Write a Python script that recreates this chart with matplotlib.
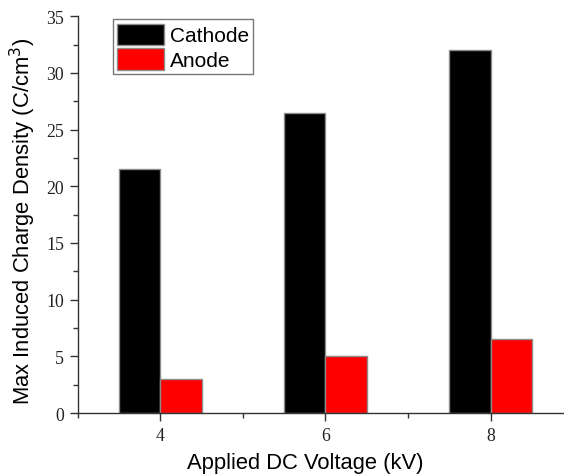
import numpy as np
import matplotlib.pyplot as plt
from matplotlib.ticker import MultipleLocator

# -----------------------------
# Data
# -----------------------------
voltage = [4, 6, 8]
cathode = [21.5, 26.5, 32.0]
anode = [3.0, 5.05, 6.5]

fig = plt.figure(figsize=(5.64, 4.77), dpi=100)
ax = fig.add_axes([0.138, 0.132, 0.862, 0.832])

x = np.array(voltage, dtype=float)
w = 0.5
ax.bar(x - w / 2, cathode, width=w, color="black", edgecolor="#8c8c8c",
       linewidth=1.0, label="Cathode")
ax.bar(x + w / 2, anode, width=w, color="red", edgecolor="#8c8c8c",
       linewidth=1.0, label="Anode")

ax.set_xlim(3, 8.89)
ax.set_ylim(0, 35)
ax.set_xticks(voltage)
ax.xaxis.set_minor_locator(MultipleLocator(1))
ax.yaxis.set_major_locator(MultipleLocator(5))
ax.yaxis.set_minor_locator(MultipleLocator(2.5))

ax.spines["top"].set_visible(False)
ax.spines["right"].set_visible(False)
for s in ["left", "bottom"]:
    ax.spines[s].set_linewidth(1.0)
    ax.spines[s].set_color("#333333")

ax.tick_params(which="major", direction="out", length=5.8, width=1.0,
               color="#333333", pad=4)
ax.tick_params(which="minor", direction="out", length=3.6, width=1.0, color="#333333")
for lab in ax.get_xticklabels() + ax.get_yticklabels():
    lab.set_family("Liberation Serif")
    lab.set_fontsize(12.8)
    lab.set_color("#222222")

ax.set_xlabel("Applied DC Voltage (kV)", family="Liberation Sans", fontsize=15.8, labelpad=6)
ax.set_ylabel("Max Induced Charge Density (C/cm$^3$)", family="Liberation Sans",
              fontsize=15.8, labelpad=6)
ax.xaxis.label.set_x(0.467)
ax.yaxis.label.set_y(0.486)

leg = ax.legend(loc="upper left", bbox_to_anchor=(0.072, 0.992), frameon=True,
                fancybox=False, edgecolor="#555555", handlelength=2.25,
                handleheight=1.2, handletextpad=0.3, borderpad=0.2,
                labelspacing=0.15, borderaxespad=0,
                prop={"family": "Liberation Sans", "size": 15})
leg.get_frame().set_linewidth(1.0)

fig.savefig("out.png", dpi=100)
